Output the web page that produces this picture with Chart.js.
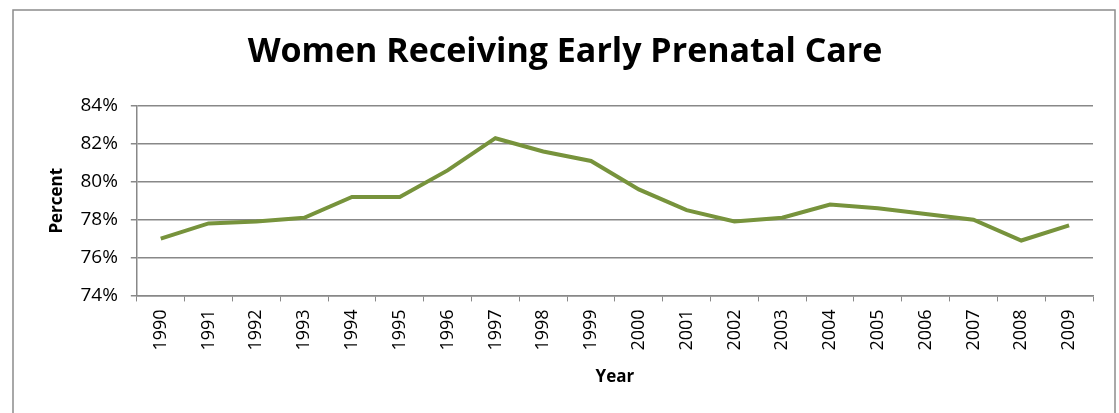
<!DOCTYPE html>
<html>
<head>
<meta charset="utf-8">
<script src="https://cdn.jsdelivr.net/npm/chart.js@4.4.1/dist/chart.umd.min.js"></script>
<style>
  html, body { margin: 0; padding: 0; background: #fff; }
  #wrap { width: 1119px; height: 413px; position: relative; }
</style>
</head>
<body>
<div id="wrap"><canvas id="careChart" width="1119" height="413"></canvas></div>
<script>
// years on the category axis
const years = ["1990", "1991", "1992", "1993", "1994", "1995", "1996", "1997", "1998", "1999",
               "2000", "2001", "2002", "2003", "2004", "2005", "2006", "2007", "2008", "2009"];

// share of women receiving early prenatal care, percent
const percentValues = [77.0, 77.8, 77.9, 78.1, 79.2, 79.2, 80.6, 82.3, 81.6, 81.1,
                       79.6, 78.5, 77.9, 78.1, 78.8, 78.6, 78.3, 78.0, 76.9, 77.7];

// y axis ticks
const percentTicks = [74, 76, 78, 80, 82, 84];

const chartTitle = "Women Receiving Early Prenatal Care";
const FONT = "'Open Sans', 'Liberation Sans', sans-serif";
const GRID = "#888888";

// outer frame + title, drawn straight on the canvas
const frameAndTitle = {
    id: "frameAndTitle",
    beforeDraw(chart) {
        const c = chart.ctx;
        c.save();
        c.strokeStyle = "#8c8c8c";
        c.lineWidth = 1.5;
        c.strokeRect(13, 10, 1102, 420);
        c.restore();
    },
    afterDraw(chart) {
        const c = chart.ctx;
        c.save();
        c.fillStyle = "#000";
        c.font = "bold 34px " + FONT;
        c.textAlign = "center";
        c.textBaseline = "middle";
        c.fillText(chartTitle, 565, 52);
        c.restore();
    }
};

new Chart(document.getElementById("careChart"), {
    type: "line",
    data: {
        labels: years,
        datasets: [{
            data: percentValues,
            borderColor: "#77933c",
            borderWidth: 4,
            pointRadius: 0,
            tension: 0,
            fill: false
        }]
    },
    options: {
        responsive: false,
        animation: false,
        layout: { padding: { left: 47, right: 26, top: 106, bottom: 26 } },
        plugins: {
            legend: { display: false },
            tooltip: { enabled: false }
        },
        scales: {
            x: {
                offset: true,
                grid: {
                    offset: true,
                    drawOnChartArea: false,
                    drawTicks: true,
                    tickLength: 6,
                    color: GRID
                },
                border: { color: GRID, width: 1.5 },
                ticks: {
                    maxRotation: 90,
                    minRotation: 90,
                    autoSkip: false,
                    padding: 8,
                    color: "#000",
                    font: { family: FONT, size: 18 }
                },
                title: {
                    display: true,
                    text: "Year",
                    color: "#000",
                    padding: { top: 8, bottom: 0 },
                    font: { family: FONT, size: 17, weight: "bold" }
                }
            },
            y: {
                min: 74,
                max: 84,
                afterBuildTicks(axis) {
                    axis.ticks = percentTicks.map(v => ({ value: v }));
                },
                grid: {
                    color: GRID,
                    lineWidth: 1.5,
                    tickLength: 6
                },
                border: { color: GRID, width: 1.5 },
                ticks: {
                    padding: 13,
                    color: "#000",
                    font: { family: FONT, size: 19 },
                    callback: v => v + "%"
                },
                title: {
                    display: true,
                    text: "Percent",
                    color: "#000",
                    padding: { top: 0, bottom: 0 },
                    font: { family: FONT, size: 17, weight: "bold" }
                }
            }
        }
    },
    plugins: [frameAndTitle]
});
</script>
</body>
</html>
